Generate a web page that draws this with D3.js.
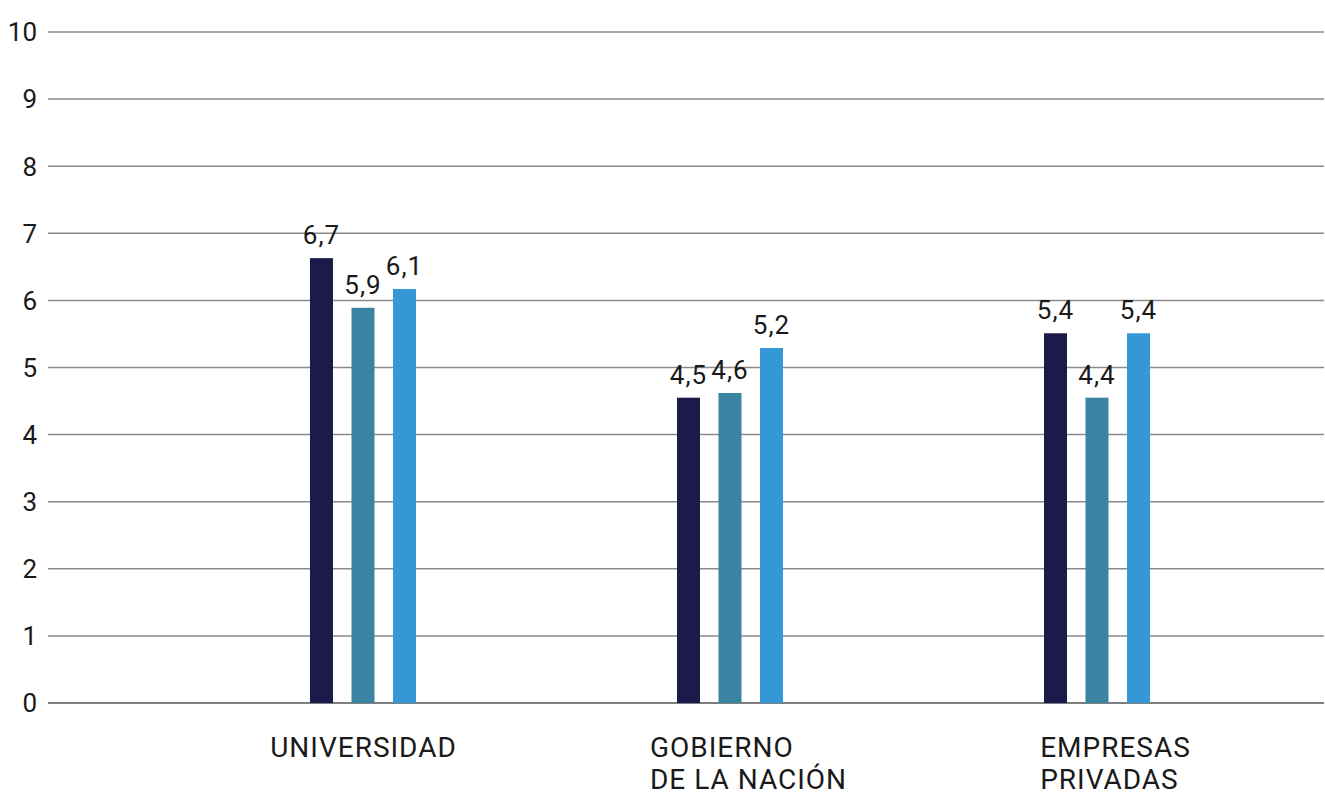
<!DOCTYPE html>
<html>
<head>
<meta charset="utf-8">
<script src="https://cdn.jsdelivr.net/npm/d3@7"></script>
<style>
  body { margin: 0; background: #fff; }
  text { font-family: Roboto, "DejaVu Sans", sans-serif; fill: #1a1a1a; }
</style>
</head>
<body>
<div id="graph"></div>
<script>
// Données
const categories = [["UNIVERSIDAD"], ["GOBIERNO", "DE LA NACIÓN"], ["EMPRESAS", "PRIVADAS"]];
const series = ["s1", "s2", "s3"];
const values = [
    [6.63, 5.89, 6.17],
    [4.55, 4.62, 5.29],
    [5.51, 4.55, 5.51]
];
const labels = [
    ["6,7", "5,9", "6,1"],
    ["4,5", "4,6", "5,2"],
    ["5,4", "4,4", "5,4"]
];
const yTicks = [0, 1, 2, 3, 4, 5, 6, 7, 8, 9, 10];

//---------------------------------------------------------------------------------------

const width = 1325;
const height = 794;

const svg = d3.select("#graph")
    .append("svg")
    .attr("width", width)
    .attr("height", height);

// Échelles
const y = d3.scaleLinear()
    .domain([0, 10])
    .range([703, 32]);

const x0 = d3.scaleBand()
    .domain(d3.range(categories.length))
    .range([180, 1281])
    .padding(0);

const x1 = d3.scalePoint()
    .domain(series)
    .range([-42, 41]);

const color = d3.scaleOrdinal()
    .domain(series)
    .range(["#1c1a4b", "#3983a3", "#3598d6"]);

const barW = 23;

// Grille et axe Y
svg.append("g")
    .selectAll("line")
    .data(yTicks)
    .join("line")
    .attr("x1", 48)
    .attr("x2", 1324)
    .attr("y1", d => y(d))
    .attr("y2", d => y(d))
    .attr("stroke", d => d === 0 ? "#555" : "#8a8a8a")
    .attr("stroke-width", 1.5);

svg.append("g")
    .selectAll("text")
    .data(yTicks)
    .join("text")
    .attr("x", 37)
    .attr("y", d => y(d))
    .attr("dy", "0.36em")
    .attr("text-anchor", "end")
    .attr("font-size", "26px")
    .text(d => d);

// Barres
const groups = svg.append("g")
    .selectAll("g")
    .data(values)
    .join("g")
    .attr("transform", (d, i) => `translate(${x0(i) + x0.bandwidth() / 2}, 0)`);

groups.selectAll("rect")
    .data(d => d.map((v, j) => ({ key: series[j], value: v })))
    .join("rect")
    .attr("x", d => x1(d.key) - barW / 2)
    .attr("y", d => y(d.value))
    .attr("width", barW)
    .attr("height", d => y(0) - y(d.value))
    .attr("fill", d => color(d.key));

// Étiquettes de valeurs
groups.selectAll("text.val")
    .data((d, i) => d.map((v, j) => ({ key: series[j], value: v, label: labels[i][j] })))
    .join("text")
    .attr("class", "val")
    .attr("x", d => x1(d.key))
    .attr("y", d => y(d.value) - 14)
    .attr("text-anchor", "middle")
    .attr("font-size", "26px")
    .attr("letter-spacing", "1px")
    .text(d => d.label);

// Catégories
const cats = svg.append("g")
    .selectAll("text")
    .data(categories)
    .join("text")
    .attr("font-size", "28px")
    .attr("letter-spacing", "1px")
    .attr("y", 757);

cats.selectAll("tspan")
    .data(d => d)
    .join("tspan")
    .attr("x", 0)
    .attr("dy", (d, i) => i === 0 ? 0 : 32)
    .text(d => d);

cats.each(function (d, i) {
    const w = this.getBBox().width;
    const cx = x0(i) + x0.bandwidth() / 2 + (i === 0 ? 0 : 18);
    d3.select(this).selectAll("tspan").attr("x", cx - w / 2);
});
</script>
</body>
</html>
